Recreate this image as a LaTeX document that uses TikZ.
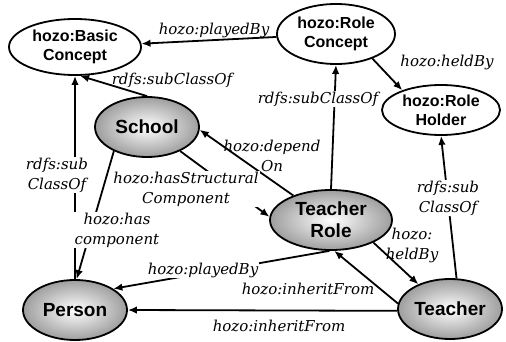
\documentclass[tikz,border=0pt]{standalone}
\usepackage{fontspec}
\setmainfont{Liberation Sans}
\newfontfamily\lblfont{DejaVu Serif}
\usetikzlibrary{shapes.geometric,arrows.meta}

\begin{document}
\begin{tikzpicture}[x=1pt,y=-1pt,
  concept/.style={ellipse, draw, line width=1.8pt, inner sep=0pt, align=center,
    fill=white, font=\bfseries\fontsize{16}{19}\selectfont},
  instance/.style={ellipse, draw, line width=1.8pt, inner sep=0pt, align=center,
    shading=radial, inner color=white, outer color=black!38,
    font=\bfseries\fontsize{19}{22}\selectfont,
    minimum width=104pt, minimum height=60pt},
  rel/.style={line width=1.8pt, -{Latex[length=9pt,width=7.5pt]}},
  lbl/.style={font=\lblfont\itshape\fontsize{15}{20}\selectfont, align=center, inner sep=1pt},
  cut/.style={lbl, fill=white},
]
\useasboundingbox (0,0) rectangle (506,342);

% classes
\node[concept, minimum width=132pt, minimum height=56pt] (bc) at (75,47) {hozo:Basic\\Concept};
\node[concept, minimum width=118pt, minimum height=60pt] (rc) at (336,34) {hozo:Role\\Concept};
\node[concept, minimum width=118pt, minimum height=50pt] (rh) at (441,110) {hozo:Role\\Holder};

% instances
\node[instance] (school) at (147,127) {School};
\node[instance, minimum width=122pt] (tr) at (331,220) {Teacher\\Role};
\node[instance] (person) at (75,310) {Person};
\node[instance] (teacher) at (450,309) {Teacher};

% relations
\draw[rel] (rc) -- (bc);
\draw[rel] (rc.-34) -- (rh.153);
\draw[rel] (school.north) -- (bc.-80);
\draw[rel] (person.north) -- (bc.south);
\draw[rel] (tr.north) -- (rc.south);
\draw[rel] (tr.147) -- (school.-3);
\draw[rel] (school.-36) -- (tr.177);
\draw[rel] (school.-144) -- (person.87);
\draw[rel] (tr.-93) -- (person.29);
\draw[rel] (tr.-28) -- (teacher.142);
\draw[rel] (teacher.174) -- (tr.-84);
\draw[rel] (teacher.182) -- (person.east);
\draw[rel] (teacher.78) -- (rh.south);

% relation labels
\node[lbl] (l-played1) at (214,30) {hozo:playedBy};
\node[lbl] (l-held1) at (447,62) {hozo:heldBy};
\node[lbl] (l-sub1) at (172,80) {rdfs:subClassOf};
\node[cut] (l-sub2) at (57,175) {rdfs:sub\\ClassOf};
\node[cut] (l-sub3) at (318,99) {rdfs:subClassOf};
\node[lbl] (l-dep) at (272,156) {hozo:depend\\On};
\node[cut] (l-struct) at (186,189) {hozo:hasStructural\\Component};
\node[cut] (l-has) at (117,230) {hozo:has\\component};
\node[cut] (l-played2) at (203,270) {hozo:playedBy};
\node[lbl] (l-held2) at (412,245) {hozo:\\heldBy};
\node[lbl] (l-inh1) at (308,289) {hozo:inheritFrom};
\node[lbl] (l-inh2) at (279,326) {hozo:inheritFrom};
\node[cut] (l-sub4) at (448,198) {rdfs:sub\\ClassOf};
\end{tikzpicture}
\end{document}
